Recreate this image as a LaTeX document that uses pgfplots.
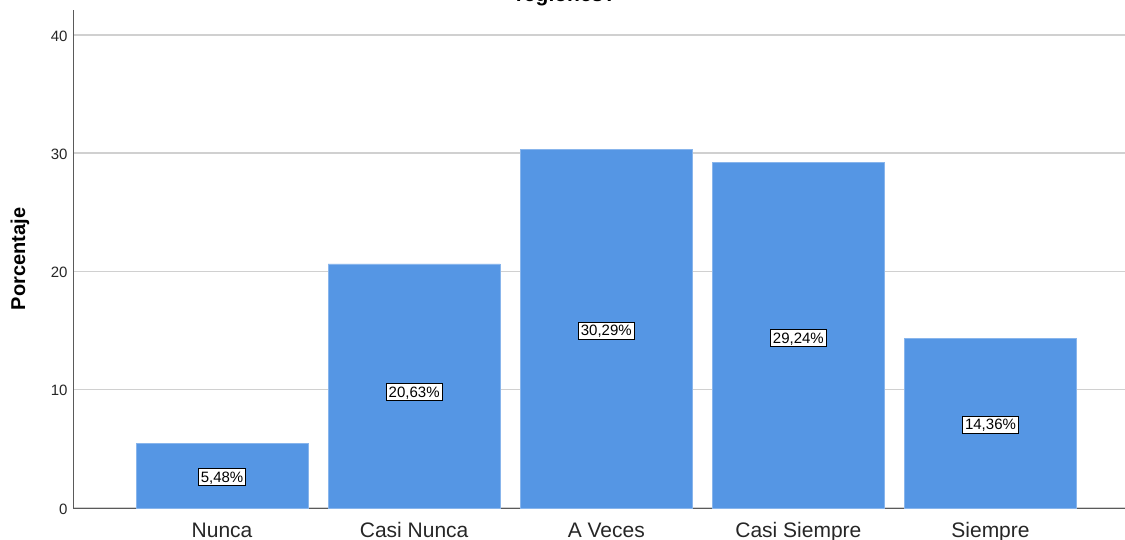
\documentclass[border=0pt]{standalone}
\usepackage{pgfplots}
\pgfplotsset{compat=1.18}
\usepackage{fontspec}
\setmainfont{Liberation Sans}
\definecolor{barblue}{RGB}{85,150,228}
\definecolor{gridgray}{RGB}{208,208,208}
\definecolor{axgray}{RGB}{90,90,90}
\begin{document}
\begin{tikzpicture}[x=1bp,y=1bp]
\begin{axis}[
  at={(0,0)}, anchor=south west,
  scale only axis, width=1052bp, height=498bp,
  xmin=-0.776, xmax=4.70, ymin=0, ymax=42.1,
  axis lines*=left,
  axis line style={axgray, line width=0.9bp},
  xtick={0,1,2,3,4},
  xticklabels={Nunca,Casi Nunca,A Veces,Casi Siempre,Siempre},
  ytick={0,10,20,30,40},
  major tick length=0pt,
  ymajorgrids, grid style={gridgray, line width=1.4bp},
  /pgf/number format/assume math mode=true,
  xticklabel style={font=\fontsize{21bp}{24bp}\selectfont, text=black!85, anchor=base, yshift=-29bp},
  yticklabel style={font=\fontsize{15bp}{17bp}\selectfont, text=black!85, xshift=-2bp, yshift=-1bp},
  clip=false,
]
\addplot[ybar, bar width=172bp, fill=barblue, draw=barblue!70!white, line width=0.8bp]
  coordinates {(0,5.48) (1,20.63) (2,30.29) (3,29.24) (4,14.36)};
\addplot[only marks, mark=none, nodes near coords, point meta=explicit symbolic,
  every node near coord/.style={anchor=center, fill=white, draw=black, line width=0.8bp,
    inner xsep=2.5bp, inner ysep=3bp, text height=10.7bp, text depth=0bp,
    font=\fontsize{15bp}{17bp}\selectfont}]
  table[meta=lab] {
x y lab
0 2.65 5,48\%
1 9.8 20,63\%
2 15.0 30,29\%
3 14.4 29,24\%
4 7.05 14,36\%
};
\end{axis}
\node[rotate=90, font=\bfseries\fontsize{20bp}{22bp}\selectfont] at (-53bp,249bp) {Porcentaje};
\node[anchor=base, font=\bfseries\fontsize{21bp}{24bp}\selectfont] at (493bp,506bp) {regiones?};
\pgfresetboundingbox
\useasboundingbox (-73bp,-32bp) rectangle (1052bp,508bp);
\end{tikzpicture}
\end{document}
